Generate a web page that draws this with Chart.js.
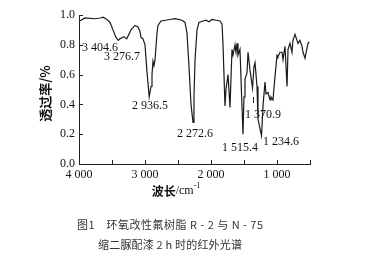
<!DOCTYPE html>
<html>
<head>
<meta charset="utf-8">
<script src="https://cdn.jsdelivr.net/npm/chart.js@4.4.0/dist/chart.umd.min.js"></script>
<style>
  html, body { margin: 0; padding: 0; background: #fff; }
  #wrap { width: 373px; height: 256px; }
</style>
</head>
<body>
<div id="wrap"><canvas id="ir"></canvas></div>
<script>
// IR spectrum (wavenumber in cm-1, transmittance)
const wavenumbers = [3990, 3910, 3760, 3680, 3636, 3576, 3530, 3485, 3440, 3404.6, 3379, 3318, 3276.7,
  3212, 3152, 3106, 3076, 3061, 3030, 3000, 2970, 2936.5, 2909, 2894, 2879, 2864, 2848, 2818, 2803,
  2758, 2621, 2545, 2439, 2394, 2364, 2333, 2303, 2272.6, 2258, 2242, 2212, 2182, 2121, 2076, 2030,
  1985, 1924, 1864, 1833, 1818, 1788, 1773, 1742, 1712, 1682, 1667, 1636, 1621, 1606, 1591, 1561,
  1515.4, 1500, 1485, 1455, 1439, 1409, 1370.9, 1350, 1333, 1303, 1288, 1234.6, 1212, 1182, 1167,
  1136, 1106, 1091, 1061, 1030, 1000, 985, 955, 924, 909, 879, 848, 833, 803, 773, 758, 727, 697,
  682, 652, 621, 606, 576, 545, 530, 510];
const transmittance = [0.96, 0.98, 0.975, 0.98, 0.985, 0.97, 0.95, 0.90, 0.85, 0.83, 0.84, 0.855, 0.84,
  0.90, 0.93, 0.92, 0.89, 0.85, 0.84, 0.80, 0.62, 0.45, 0.52, 0.60, 0.69, 0.66, 0.70, 0.88, 0.93,
  0.96, 0.97, 0.975, 0.965, 0.95, 0.88, 0.65, 0.40, 0.28, 0.45, 0.70, 0.90, 0.95, 0.96, 0.965, 0.955,
  0.97, 0.965, 0.96, 0.94, 0.80, 0.39, 0.50, 0.60, 0.38, 0.77, 0.73, 0.80, 0.75, 0.81, 0.73, 0.77,
  0.20, 0.45, 0.57, 0.61, 0.75, 0.63, 0.51, 0.65, 0.68, 0.52, 0.30, 0.19, 0.39, 0.55, 0.47,
  0.48, 0.43, 0.45, 0.43, 0.59, 0.73, 0.72, 0.75, 0.75, 0.70, 0.79, 0.52, 0.77, 0.81, 0.75, 0.83, 0.87, 0.83,
  0.81, 0.83, 0.79, 0.75, 0.71, 0.78, 0.81, 0.82];

// peak annotations: text and where the text sits (in data units)
const peakNames = ['3 404.6', '3 276.7', '2 936.5', '2 272.6', '1 370.9', '1 515.4', '1 234.6'];
const peakTextX = [3955, 3621, 3197, 2515, 1485, 1833, 1212];
const peakTextY = [0.78, 0.72, 0.39, 0.20, 0.33, 0.107, 0.147];

const yTitle = '透过率/%';
const xTitle = '波长';
const xUnit = '/cm';
const caption1 = '图1　环氧改性氟树脂 R - 2 与 N - 75';
const caption2 = '缩二脲配漆 2 h 时的红外光谱';

const serif = "'Liberation Serif', 'DejaVu Serif', serif";
const cjk = "'Noto Sans CJK SC', sans-serif";

function spaced(v) {
    // 4000 -> "4 000"
    const s = String(v);
    return s.length > 3 ? s.slice(0, s.length - 3) + ' ' + s.slice(-3) : s;
}

const extras = {
    id: 'extras',
    afterDraw(chart) {
        const ctx = chart.ctx;
        const xs = chart.scales.x, ys = chart.scales.y;
        const area = chart.chartArea;
        ctx.save();
        ctx.strokeStyle = '#222';
        ctx.lineWidth = 1;

        // inward tick marks
        for (let v = 500; v <= 3500; v += 500) {
            const px = Math.round(xs.getPixelForValue(v)) + 0.5;
            ctx.beginPath();
            ctx.moveTo(px, area.bottom);
            ctx.lineTo(px, area.bottom - 4);
            ctx.stroke();
        }
        for (let v = 0.2; v <= 1.01; v += 0.2) {
            const py = Math.round(ys.getPixelForValue(v)) + 0.5;
            ctx.beginPath();
            ctx.moveTo(area.left, py);
            ctx.lineTo(area.left + 4, py);
            ctx.stroke();
        }

        // peak labels
        ctx.fillStyle = '#111';
        ctx.font = '12px ' + serif;
        ctx.textAlign = 'left';
        ctx.textBaseline = 'middle';
        peakNames.forEach((t, i) => {
            ctx.fillText(t, xs.getPixelForValue(peakTextX[i]), ys.getPixelForValue(peakTextY[i]));
        });
        // small marker under 1 370.9
        const mx = Math.round(xs.getPixelForValue(1370.9)) + 0.5;
        ctx.beginPath();
        ctx.moveTo(mx, ys.getPixelForValue(0.45));
        ctx.lineTo(mx, ys.getPixelForValue(0.41));
        ctx.stroke();

        // y title
        ctx.save();
        ctx.translate(area.left - 34, (area.top + area.bottom) / 2 + 4);
        ctx.rotate(-Math.PI / 2);
        ctx.textAlign = 'center';
        ctx.font = 'bold 13px ' + cjk;
        ctx.fillText(yTitle, 0, 0);
        ctx.restore();

        // x title
        const ty = area.bottom + 27;
        ctx.textAlign = 'left';
        ctx.font = 'bold 12px ' + cjk;
        const w1 = ctx.measureText(xTitle).width;
        ctx.font = '12px ' + serif;
        const w2 = ctx.measureText(xUnit).width;
        ctx.font = '8px ' + serif;
        const w3 = ctx.measureText('-1').width;
        let x0 = 176 - (w1 + w2 + w3) / 2;
        ctx.font = 'bold 12px ' + cjk;
        ctx.fillText(xTitle, x0, ty);
        ctx.font = '12px ' + serif;
        ctx.fillText(xUnit, x0 + w1, ty);
        ctx.font = '8px ' + serif;
        ctx.fillText('-1', x0 + w1 + w2, ty - 5);

        // caption
        ctx.fillStyle = '#333';
        ctx.font = '11px ' + cjk;
        [[caption1, 225, 186], [caption2, 245, 144]].forEach(([t, y, target]) => {
            ctx.letterSpacing = '0px';
            const w = ctx.measureText(t).width;
            const gap = Math.max(0, (target - w) / (t.length - 1));
            ctx.letterSpacing = gap + 'px';
            ctx.textAlign = 'left';
            ctx.fillText(t, 170 - target / 2, y);
        });
        ctx.restore();
    }
};

new Chart(document.getElementById('ir'), {
    type: 'scatter',
    data: {
        datasets: [{
            data: wavenumbers.map((w, i) => ({ x: w, y: transmittance[i] })),
            showLine: true,
            borderColor: '#1a1a1a',
            borderWidth: 1.2,
            pointRadius: 0,
            tension: 0
        }]
    },
    options: {
        responsive: true,
        maintainAspectRatio: false,
        animation: false,
        layout: { padding: { top: 15, right: 63, left: 0, bottom: 0 } },
        plugins: { legend: { display: false }, tooltip: { enabled: false } },
        scales: {
            x: {
                type: 'linear',
                reverse: true,
                min: 500,
                max: 4000,
                grid: { display: true, drawOnChartArea: false, drawTicks: false },
                border: { display: true, color: '#222', width: 1 },
                ticks: {
                    stepSize: 500,
                    autoSkip: false,
                    maxRotation: 0,
                    padding: 4,
                    color: '#111',
                    font: { family: serif, size: 12 },
                    callback: v => (v % 1000 === 0 && v < 4500 && v > 500) ? spaced(v) : ''
                },
                afterFit: s => { s.height = 92; }
            },
            y: {
                min: 0,
                max: 1,
                grid: { display: true, drawOnChartArea: false, drawTicks: false },
                border: { display: true, color: '#222', width: 1 },
                ticks: {
                    stepSize: 0.2,
                    padding: 4,
                    color: '#111',
                    font: { family: serif, size: 12 },
                    callback: v => v.toFixed(1)
                },
                afterFit: s => { s.width = 79; }
            }
        }
    },
    plugins: [extras]
});
</script>
</body>
</html>
